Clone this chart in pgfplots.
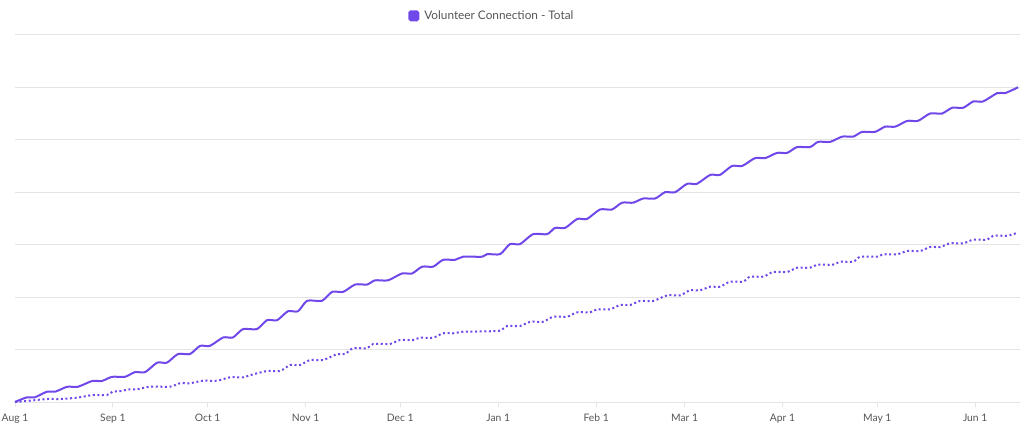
\documentclass[border=0pt]{standalone}
\usepackage{pgfplots}
\pgfplotsset{compat=1.18}
\usepackage{fontspec}
\setmainfont{Lato}
\definecolor{violet}{HTML}{7048EA}
\definecolor{gridc}{HTML}{E4E4E4}
\definecolor{labc}{HTML}{555555}
\begin{document}
\begin{tikzpicture}
\useasboundingbox (-15pt,-37pt) rectangle (1017pt,402pt);
\begin{axis}[
  at={(0,0)}, anchor=south west,
  scale only axis, width=1005pt, height=367.15pt,
  xmin=0, xmax=318.2, ymin=0, ymax=7,
  clip=false,
  axis line style={draw=none},
  ytick={0,1,2,3,4,5,6,7}, yticklabels={},
  ymajorgrids, grid style={gridc, line width=0.9pt},
  ytick style={draw=none},
  xtick={0,31,61,92,122,153,184,212,243,273,304},
  xticklabels={Aug 1,Sep 1,Oct 1,Nov 1,Dec 1,Jan 1,Feb 1,Mar 1,Apr 1,May 1,Jun 1},
  xtick pos=lower, tick align=outside, major tick length=5pt,
  xtick style={gridc, line width=0.9pt},
  xticklabel style={font=\fontsize{10.3}{12}\selectfont, text=labc, yshift=-3.5pt},
  /pgf/number format/assume math mode=true,
  legend style={at={(0.4745,1.052)}, anchor=center, draw=none, fill=none,
    font=\fontsize{11.8}{13}\selectfont, text=labc},
  legend image code/.code={\fill[violet, rounded corners=1.5pt] (0pt,-4.5pt) rectangle (9pt,4.5pt); \path (12pt,0pt);},
]
\addplot[violet, line width=2pt, smooth, tension=0.42] coordinates {
(0,0) (3.8,0.09) (6.3,0.09) (10.1,0.196) (12.7,0.196) (16.5,0.29) (19.9,0.29)
(24.4,0.40) (27.5,0.40) (30.7,0.48) (34.8,0.48) (38.0,0.57) (41.2,0.57)
(45.0,0.75) (48.1,0.75) (51.6,0.915) (55.4,0.915) (58.6,1.07) (61.7,1.07)
(65.9,1.23) (69.0,1.23) (72.2,1.39) (76.6,1.39) (79.8,1.56) (83.0,1.56)
(86.4,1.73) (89.6,1.73) (92.5,1.93) (97.2,1.93) (100.4,2.10) (103.9,2.10)
(107.7,2.24) (111.5,2.24) (114.0,2.32) (118.1,2.32) (122.5,2.45) (125.7,2.45)
(128.9,2.58) (132.4,2.58) (135.5,2.71) (139.3,2.71) (141.9,2.77) (147.9,2.77)
(149.5,2.82) (153.6,2.82) (156.7,3.01) (159.9,3.01) (164.0,3.20) (168.5,3.20)
(171.0,3.32) (174.2,3.32) (178.0,3.49) (181.1,3.49) (185.2,3.67) (189.0,3.67)
(192.2,3.80) (195.7,3.80) (198.9,3.88) (202.7,3.88) (205.8,4.00) (209.0,4.00)
(212.8,4.16) (215.9,4.16) (220.1,4.33) (223.2,4.33) (227.0,4.50) (230.2,4.50)
(234.3,4.65) (237.5,4.65) (241.3,4.75) (244.5,4.75) (247.6,4.86) (251.7,4.86)
(254.3,4.96) (258.1,4.96) (261.9,5.06) (265.4,5.06) (268.2,5.15) (272.3,5.15)
(275.5,5.25) (278.7,5.25) (282.5,5.36) (285.9,5.36) (289.7,5.50) (293.5,5.50)
(296.7,5.61) (300.2,5.61) (303.4,5.73) (306.5,5.73) (311.0,5.89) (313.5,5.89)
(317.6,6.00)
};
\addlegendentry{Volunteer Connection - Total}
\addplot[violet, line width=2pt, smooth, tension=0.42, dash pattern=on 2pt off 2.6pt, forget plot] coordinates {
(0,0) (4.7,0.025) (10.1,0.057) (14.2,0.057) (19.6,0.082) (24.7,0.133) (29.1,0.133)
(31.0,0.200) (33.0,0.204) (36.4,0.242) (38.6,0.242) (42.7,0.292) (49.1,0.292)
(52.2,0.357) (55.4,0.357) (59.5,0.406) (64.0,0.406) (68.1,0.471) (72.2,0.471)
(75.4,0.528) (79.8,0.591) (83.9,0.591) (87.1,0.705) (90.2,0.705) (93.4,0.80)
(97.5,0.80) (102.0,0.915) (104.5,0.915) (107.0,1.024) (111.5,1.024) (113.4,1.106)
(118.7,1.106) (121.9,1.182) (126.0,1.182) (128.2,1.226) (132.4,1.226) (135.5,1.31)
(138.7,1.31) (141.9,1.34) (147.0,1.345) (153.6,1.36) (155.8,1.45) (159.9,1.45)
(163.1,1.53) (167.2,1.53) (170.4,1.626) (174.8,1.626) (178.0,1.71) (182.1,1.71)
(184.3,1.767) (188.4,1.767) (191.6,1.85) (194.8,1.85) (197.9,1.926) (202.0,1.926)
(206.5,2.034) (210.6,2.034) (213.7,2.13) (216.9,2.13) (220.1,2.198) (223.2,2.198)
(226.4,2.294) (230.5,2.294) (232.7,2.389) (236.9,2.389) (240.0,2.479) (244.5,2.479)
(247.6,2.56) (251.7,2.56) (254.0,2.618) (259.0,2.618) (261.2,2.675) (265.4,2.675)
(267.6,2.77) (272.9,2.77) (274.9,2.816) (279.3,2.816) (282.5,2.879) (286.6,2.879)
(289.7,2.955) (292.9,2.955) (296.1,3.026) (300.2,3.026) (303.4,3.094) (307.8,3.094)
(309.7,3.17) (314.1,3.17) (317.6,3.23)
};
\end{axis}
\end{tikzpicture}
\end{document}
